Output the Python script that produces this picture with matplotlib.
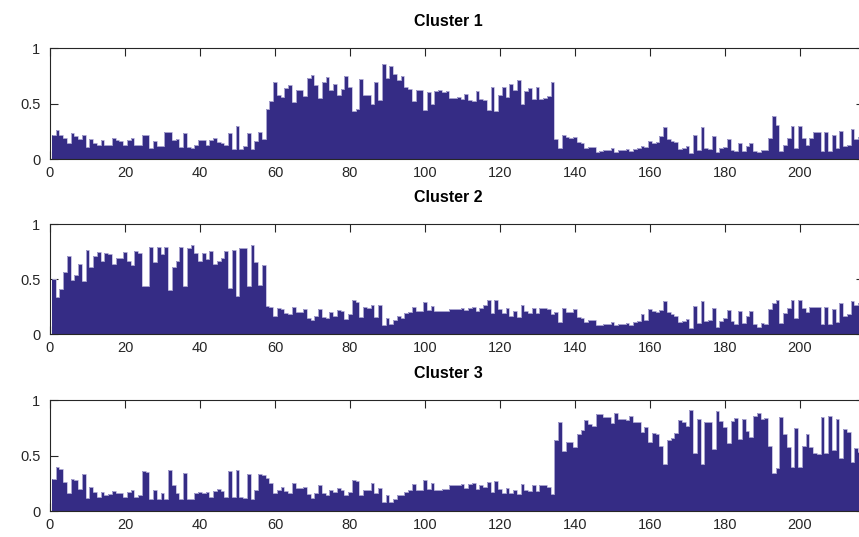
"""Per-sample cluster membership for three clusters, drawn as MATLAB-style bar strips."""

import matplotlib
matplotlib.use("Agg")
import matplotlib.pyplot as plt
import numpy as np

# membership values per sample (216 samples)
cluster_1 = [
    0.22, 0.26, 0.22, 0.19, 0.14, 0.23, 0.21, 0.18, 0.22, 0.11,
    0.18, 0.14, 0.13, 0.17, 0.13, 0.13, 0.19, 0.17, 0.16, 0.13,
    0.17, 0.19, 0.13, 0.13, 0.22, 0.22, 0.10, 0.16, 0.12, 0.12,
    0.24, 0.24, 0.17, 0.18, 0.11, 0.23, 0.11, 0.10, 0.13, 0.17,
    0.17, 0.13, 0.17, 0.19, 0.15, 0.14, 0.13, 0.23, 0.09, 0.30,
    0.09, 0.12, 0.23, 0.09, 0.16, 0.24, 0.18, 0.45, 0.52, 0.69,
    0.58, 0.56, 0.64, 0.67, 0.51, 0.62, 0.62, 0.57, 0.73, 0.76,
    0.67, 0.55, 0.69, 0.74, 0.62, 0.68, 0.58, 0.63, 0.75, 0.65,
    0.43, 0.45, 0.72, 0.58, 0.58, 0.50, 0.69, 0.53, 0.86, 0.73,
    0.84, 0.77, 0.71, 0.75, 0.65, 0.63, 0.52, 0.62, 0.62, 0.44,
    0.60, 0.50, 0.61, 0.62, 0.60, 0.61, 0.55, 0.55, 0.56, 0.54,
    0.59, 0.53, 0.52, 0.61, 0.54, 0.53, 0.44, 0.65, 0.43, 0.58,
    0.65, 0.56, 0.68, 0.62, 0.71, 0.50, 0.61, 0.64, 0.54, 0.65,
    0.54, 0.55, 0.57, 0.69, 0.18, 0.10, 0.22, 0.20, 0.19, 0.20,
    0.15, 0.14, 0.10, 0.11, 0.11, 0.06, 0.07, 0.08, 0.08, 0.10,
    0.06, 0.08, 0.08, 0.09, 0.07, 0.09, 0.10, 0.12, 0.11, 0.16,
    0.14, 0.15, 0.21, 0.29, 0.18, 0.16, 0.15, 0.09, 0.10, 0.12,
    0.05, 0.22, 0.08, 0.29, 0.10, 0.09, 0.21, 0.06, 0.10, 0.11,
    0.18, 0.08, 0.07, 0.14, 0.07, 0.12, 0.14, 0.07, 0.06, 0.08,
    0.08, 0.19, 0.39, 0.31, 0.07, 0.13, 0.19, 0.30, 0.10, 0.30,
    0.19, 0.13, 0.19, 0.24, 0.24, 0.07, 0.24, 0.07, 0.22, 0.10,
    0.25, 0.12, 0.13, 0.27, 0.18, 0.20,
]

cluster_2 = [
    0.50, 0.34, 0.41, 0.57, 0.71, 0.49, 0.54, 0.64, 0.48, 0.77,
    0.61, 0.71, 0.75, 0.67, 0.74, 0.73, 0.64, 0.69, 0.69, 0.75,
    0.67, 0.63, 0.76, 0.74, 0.44, 0.44, 0.79, 0.66, 0.79, 0.73,
    0.79, 0.40, 0.61, 0.67, 0.79, 0.44, 0.78, 0.81, 0.74, 0.67,
    0.74, 0.68, 0.76, 0.64, 0.67, 0.69, 0.76, 0.42, 0.77, 0.35,
    0.78, 0.78, 0.44, 0.81, 0.66, 0.45, 0.63, 0.26, 0.25, 0.17,
    0.24, 0.23, 0.19, 0.18, 0.25, 0.20, 0.20, 0.23, 0.15, 0.13,
    0.17, 0.23, 0.16, 0.15, 0.20, 0.17, 0.22, 0.21, 0.14, 0.18,
    0.31, 0.29, 0.16, 0.25, 0.24, 0.27, 0.16, 0.27, 0.08, 0.15,
    0.09, 0.13, 0.17, 0.15, 0.19, 0.20, 0.25, 0.21, 0.21, 0.29,
    0.22, 0.26, 0.21, 0.21, 0.21, 0.21, 0.23, 0.23, 0.23, 0.24,
    0.22, 0.24, 0.25, 0.21, 0.24, 0.27, 0.31, 0.19, 0.31, 0.23,
    0.19, 0.24, 0.17, 0.21, 0.16, 0.27, 0.21, 0.19, 0.24, 0.19,
    0.24, 0.24, 0.23, 0.18, 0.20, 0.11, 0.24, 0.20, 0.20, 0.23,
    0.16, 0.15, 0.11, 0.13, 0.13, 0.08, 0.08, 0.09, 0.09, 0.11,
    0.08, 0.09, 0.09, 0.10, 0.08, 0.11, 0.12, 0.18, 0.13, 0.23,
    0.21, 0.20, 0.22, 0.30, 0.20, 0.18, 0.17, 0.11, 0.12, 0.14,
    0.06, 0.26, 0.10, 0.30, 0.12, 0.13, 0.24, 0.07, 0.12, 0.15,
    0.22, 0.12, 0.09, 0.21, 0.10, 0.17, 0.21, 0.09, 0.07, 0.10,
    0.09, 0.23, 0.28, 0.31, 0.10, 0.19, 0.24, 0.31, 0.15, 0.31,
    0.24, 0.20, 0.25, 0.25, 0.25, 0.09, 0.25, 0.09, 0.23, 0.11,
    0.28, 0.17, 0.18, 0.30, 0.27, 0.28,
]

cluster_3 = [
    0.29, 0.40, 0.38, 0.26, 0.16, 0.29, 0.28, 0.20, 0.33, 0.12,
    0.22, 0.17, 0.13, 0.17, 0.14, 0.15, 0.18, 0.16, 0.16, 0.13,
    0.17, 0.19, 0.13, 0.14, 0.36, 0.35, 0.11, 0.19, 0.11, 0.16,
    0.11, 0.37, 0.23, 0.16, 0.11, 0.34, 0.11, 0.11, 0.16, 0.17,
    0.16, 0.17, 0.13, 0.18, 0.20, 0.18, 0.13, 0.36, 0.13, 0.37,
    0.13, 0.12, 0.33, 0.11, 0.19, 0.33, 0.32, 0.30, 0.25, 0.16,
    0.19, 0.22, 0.18, 0.16, 0.25, 0.21, 0.21, 0.22, 0.15, 0.12,
    0.16, 0.23, 0.16, 0.14, 0.19, 0.17, 0.21, 0.19, 0.14, 0.17,
    0.28, 0.27, 0.14, 0.19, 0.19, 0.25, 0.16, 0.21, 0.08, 0.14,
    0.08, 0.11, 0.14, 0.14, 0.17, 0.19, 0.24, 0.19, 0.19, 0.28,
    0.20, 0.25, 0.19, 0.19, 0.20, 0.20, 0.23, 0.23, 0.23, 0.24,
    0.21, 0.24, 0.25, 0.20, 0.23, 0.22, 0.26, 0.17, 0.27, 0.20,
    0.16, 0.21, 0.16, 0.19, 0.15, 0.24, 0.19, 0.18, 0.23, 0.18,
    0.23, 0.23, 0.22, 0.15, 0.64, 0.80, 0.54, 0.62, 0.62, 0.58,
    0.69, 0.73, 0.82, 0.78, 0.77, 0.87, 0.87, 0.85, 0.85, 0.79,
    0.88, 0.83, 0.83, 0.82, 0.86, 0.80, 0.80, 0.71, 0.76, 0.62,
    0.70, 0.69, 0.59, 0.42, 0.64, 0.66, 0.70, 0.82, 0.80, 0.77,
    0.91, 0.52, 0.83, 0.42, 0.80, 0.80, 0.56, 0.90, 0.81, 0.76,
    0.61, 0.81, 0.84, 0.65, 0.83, 0.72, 0.67, 0.86, 0.88, 0.83,
    0.84, 0.59, 0.34, 0.39, 0.85, 0.69, 0.58, 0.40, 0.75, 0.40,
    0.59, 0.69, 0.58, 0.52, 0.51, 0.85, 0.52, 0.86, 0.55, 0.83,
    0.48, 0.74, 0.71, 0.44, 0.57, 0.53,
]

titles = ["Cluster 1", "Cluster 2", "Cluster 3"]
series = [cluster_1, cluster_2, cluster_3]
x_ticks = list(range(0, 201, 20))
y_ticks = [0, 0.5, 1]
y_tick_labels = ["0", "0.5", "1"]

plt.rcParams["font.family"] = ["Liberation Sans", "DejaVu Sans"]

fig = plt.figure(figsize=(8.59, 5.37), dpi=100)

# axes boxes in figure fractions; the right spine runs a little past the
# image edge, like the cropped original
boxes = [
    [0.0582, 0.7039, 0.9473, 0.2067],
    [0.0582, 0.3775, 0.9473, 0.2048],
    [0.0582, 0.0484, 0.9473, 0.2067],
]

face = "#352c85"
outline = "#bdb8dc"
axis_color = "#262626"

for box, title, vals in zip(boxes, titles, series):
    ax = fig.add_axes(box)
    # width-1 bars centred on 1..N; stairs gives one filled outline, so no
    # seams between neighbouring bars
    edges = np.arange(len(vals) + 1) + 0.5
    ax.stairs(vals, edges, fill=True, color=face, zorder=2)
    ax.stairs(vals, edges, color=outline, linewidth=0.6, baseline=None, zorder=2.5)
    ax.set_xlim(0, len(vals) + 1)
    ax.set_ylim(0, 1)
    ax.set_xticks(x_ticks)
    ax.set_yticks(y_ticks)
    ax.set_yticklabels(y_tick_labels)
    ax.tick_params(direction="in", length=5.8, width=0.8, colors=axis_color,
                   labelsize=10.5, top=True, right=True, pad=5)
    ax.tick_params(axis="y", pad=7)
    for sp in ax.spines.values():
        sp.set_color(axis_color)
        sp.set_linewidth(0.8)
        sp.set_zorder(3)
    ax.set_title(title, fontsize=11.5, fontweight="bold", x=0.489, pad=16)

fig.savefig("out.png", dpi=100)
